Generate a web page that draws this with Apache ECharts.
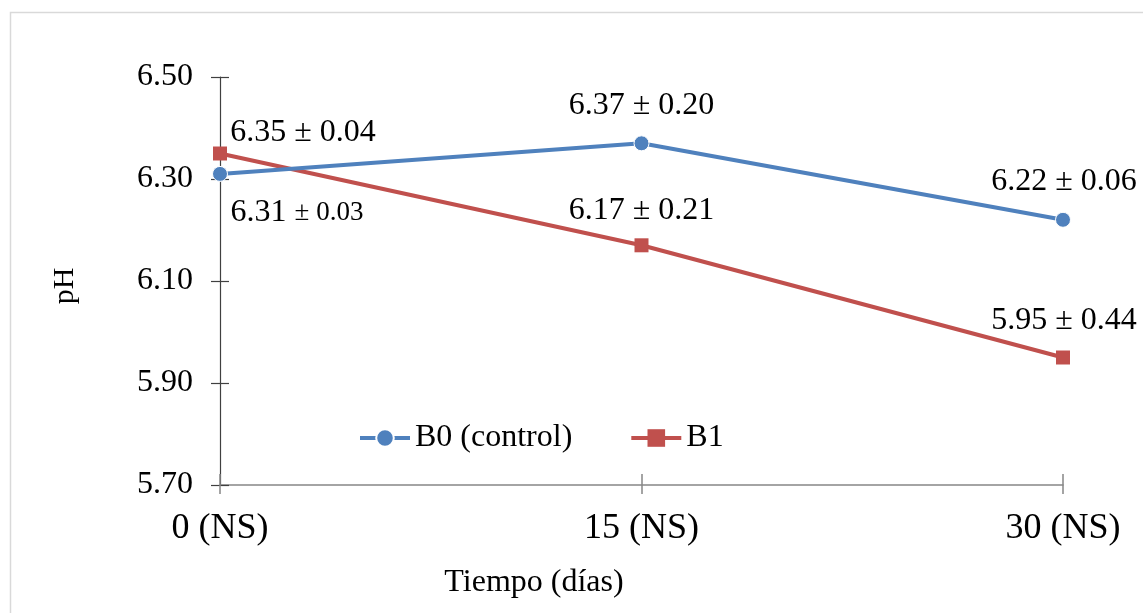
<!DOCTYPE html>
<html>
<head>
<meta charset="utf-8">
<script src="https://cdn.jsdelivr.net/npm/echarts@6/dist/echarts.min.js"></script>
<style>
  html, body { margin: 0; padding: 0; background: #fff; }
  #chart { width: 1143px; height: 613px; }
</style>
</head>
<body>
<div id="chart"></div>
<script>
// datos
const categories = ['0 (NS)', '15 (NS)', '30 (NS)'];
const phB0 = [6.31, 6.37, 6.22];
const sdB0 = ['0.03', '0.20', '0.06'];
const phB1 = [6.35, 6.17, 5.95];
const sdB1 = ['0.04', '0.21', '0.44'];
const yTicks = { min: 5.70, max: 6.50, step: 0.20 };

const serif = '"Liberation Serif", "Times New Roman", serif';
const base = yTicks.min; // eje desplazado para que las marcas empiecen en 5.70

// posiciones de etiquetas por punto
const labelB0 = [
    { position: 'bottom', distance: 15, offset: [77, 0], small: true },
    { position: 'top', distance: 14, offset: [0, 0] },
    { position: 'top', distance: 14, offset: [1, 0] }
];
const labelB1 = [
    { position: 'top', distance: -2, offset: [83, 0] },
    { position: 'top', distance: 12, offset: [0, 0] },
    { position: 'top', distance: 14, offset: [1, 0] }
];

function buildData(values, sds, cfg) {
    return values.map((v, i) => ({
        value: +(v - base).toFixed(4),
        label: {
            show: true,
            position: cfg[i].position,
            distance: cfg[i].distance,
            offset: cfg[i].offset,
            formatter: cfg[i].small
                ? '{a|' + v.toFixed(2) + ' }{b|± ' + sds[i] + '}'
                : '{a|' + v.toFixed(2) + ' ± ' + sds[i] + '}',
            rich: {
                a: { fontFamily: serif, fontSize: 32, color: '#000', lineHeight: 32 },
                b: { fontFamily: serif, fontSize: 27, color: '#000', lineHeight: 32 }
            }
        }
    }));
}

const chart = echarts.init(document.getElementById('chart'), null, { renderer: 'canvas' });

const option = {
    backgroundColor: '#fff',
    animation: false,
    grid: { left: 220, right: 80, top: 77, bottom: 128 },
    legend: {
        left: 353,
        top: 417,
        itemWidth: 50,
        itemHeight: 22,
        itemGap: 57,
        lineStyle: { width: 4 },
        textStyle: { fontFamily: serif, fontSize: 32, color: '#000' },
        data: ['B0 (control)', 'B1']
    },
    xAxis: [{
        type: 'category',
        data: categories,
        boundaryGap: false,
        axisLine: { lineStyle: { color: '#868686', width: 1.5 } },
        axisTick: { show: true, alignWithLabel: true, length: 9, lineStyle: { color: '#868686', width: 1.5 } },
        axisLabel: { fontFamily: serif, fontSize: 36, color: '#000', margin: 26 },
        splitLine: { show: false }
    }, {
        type: 'category',
        data: categories,
        boundaryGap: false,
        position: 'bottom',
        axisLine: { show: false },
        axisTick: { show: true, inside: true, length: 11, lineStyle: { color: '#868686', width: 1.5 } },
        axisLabel: { show: false },
        splitLine: { show: false }
    }],
    yAxis: [{
        type: 'value',
        min: 0,
        max: +(yTicks.max - yTicks.min).toFixed(4),
        interval: yTicks.step,
        axisLine: { show: true, lineStyle: { color: '#404040', width: 1.2 } },
        axisTick: { show: true, length: 9, lineStyle: { color: '#404040', width: 1.2 } },
        axisLabel: {
            fontFamily: serif, fontSize: 32, color: '#000', margin: 27,
            formatter: v => (v + base).toFixed(2)
        },
        splitLine: { show: false }
    }, {
        type: 'value',
        min: 0,
        max: +(yTicks.max - yTicks.min).toFixed(4),
        interval: yTicks.step,
        position: 'left',
        axisLine: { show: false },
        axisTick: { show: true, inside: true, length: 9, lineStyle: { color: '#404040', width: 1.2 } },
        axisLabel: { show: false },
        splitLine: { show: false }
    }],
    series: [{
        name: 'B0 (control)',
        type: 'line',
        data: buildData(phB0, sdB0, labelB0),
        symbol: 'circle',
        symbolSize: 15,
        lineStyle: { color: '#4F81BD', width: 4 },
        itemStyle: { color: '#4F81BD', borderColor: '#fff', borderWidth: 1 },
        z: 3
    }, {
        name: 'B1',
        type: 'line',
        data: buildData(phB1, sdB1, labelB1),
        symbol: 'rect',
        symbolSize: 14,
        lineStyle: { color: '#C0504D', width: 4 },
        itemStyle: { color: '#C0504D' },
        z: 2
    }],
    graphic: [{
        type: 'rect',
        left: 8, top: 10,
        shape: { width: 1150, height: 620 },
        style: { fill: 'none', stroke: '#d9d9d9', lineWidth: 1.5 },
        silent: true, z: -10
    }, {
        type: 'text',
        x: 65, y: 286, rotation: Math.PI / 2,
        style: { text: 'pH', fontFamily: serif, fontSize: 30, fill: '#000', align: 'center', verticalAlign: 'middle' }
    }, {
        type: 'text',
        x: 534, y: 583,
        style: { text: 'Tiempo (días)', fontFamily: serif, fontSize: 32, fill: '#000', align: 'center', verticalAlign: 'middle' }
    }]
};

chart.setOption(option);
window.addEventListener('resize', () => chart.resize());
</script>
</body>
</html>
